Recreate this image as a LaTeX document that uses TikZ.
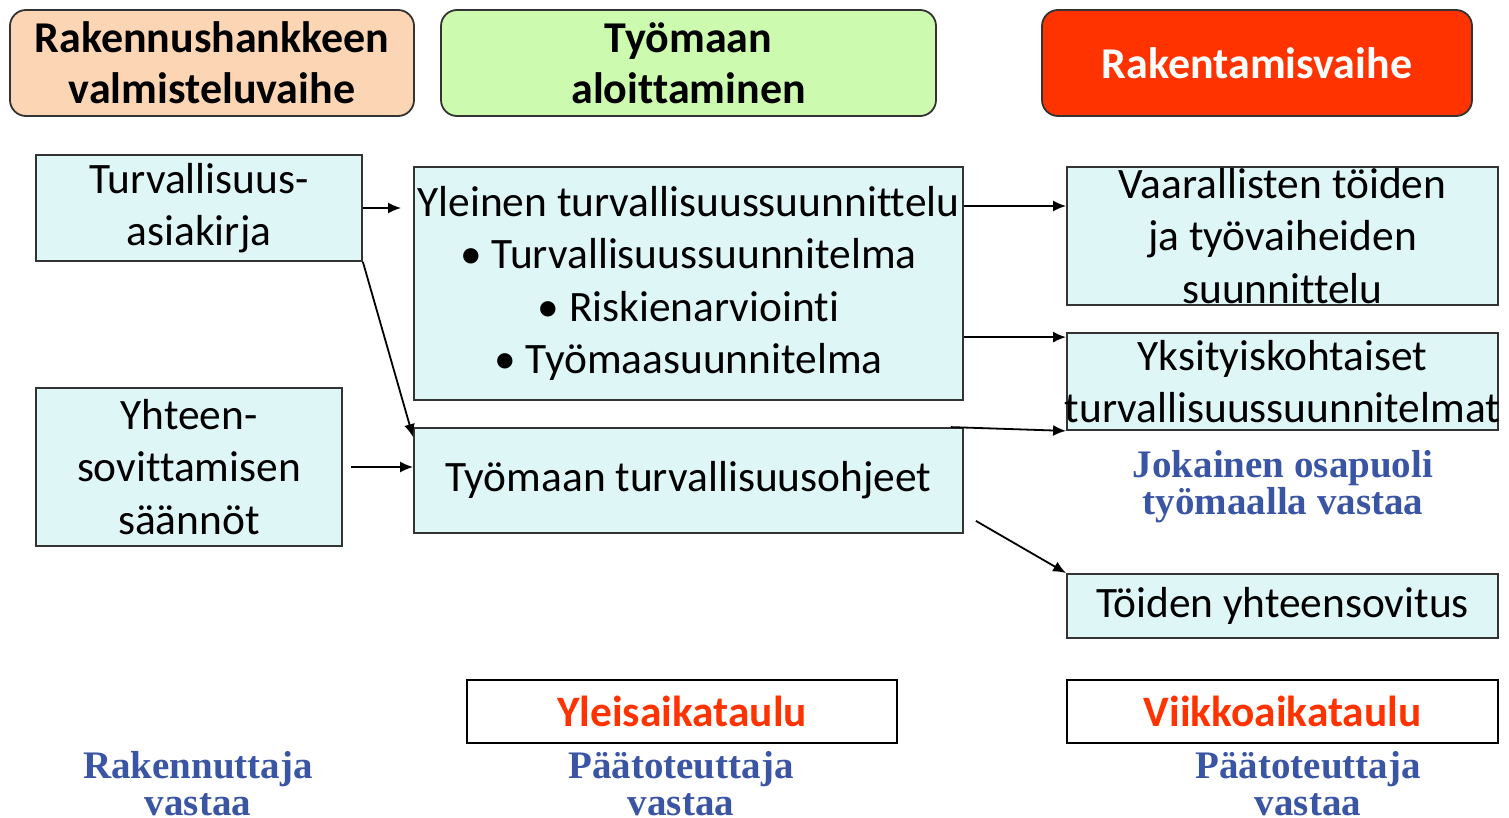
\documentclass[tikz,border=0pt]{standalone}
\usepackage{fontspec}
\setmainfont[Ligatures=NoCommon]{Carlito}
\newfontfamily\dutyfont{Liberation Serif}
\usetikzlibrary{arrows.meta}

\definecolor{peach}{HTML}{FCD5B4}
\definecolor{mint}{HTML}{CCFAAE}
\definecolor{flame}{HTML}{FF3300}
\definecolor{icecyan}{HTML}{DFF6F6}
\definecolor{inkblue}{HTML}{3A55A4}

\begin{document}
\begin{tikzpicture}[x=0.5pt,y=-0.5pt,>={Latex[length=6.5pt,width=5.5pt]},line width=0.9pt,
        phase/.style={draw=black!80,rounded corners=8pt,align=center,inner sep=0pt,
                font=\fontsize{22}{25.5}\selectfont\bfseries},
        plan/.style={draw=black!80,fill=icecyan,align=center,inner sep=0pt,
                font=\fontsize{21.7}{26.3}\selectfont},
        sched/.style={draw=black,fill=white,inner sep=0pt,text=flame,
                font=\fontsize{21.7}{24}\selectfont\bfseries},
        duty/.style={text=inkblue,align=center,
                font=\dutyfont\fontsize{19.5}{18.5}\selectfont\bfseries}]
        \useasboundingbox (0,0) rectangle (1509,818);

        % draw the phase headers
        \node[phase,fill=peach,minimum width=202pt,minimum height=53pt] (prep) at (212,63)
                {Rakennushankkeen\\valmisteluvaihe};
        \node[phase,fill=mint,minimum width=247.5pt,minimum height=53pt] (start) at (688.5,63)
                {Työmaan\\aloittaminen};
        \node[phase,fill=flame,text=white,minimum width=215pt,minimum height=53pt] (build) at (1257,63)
                {Rakentamisvaihe};

        % draw the planning boxes
        \node[plan,minimum width=163pt,minimum height=53pt] (doc) at (199,208)
                {Turvallisuus-\\asiakirja};
        \node[plan,minimum width=153pt,minimum height=79pt] (rules) at (189,467)
                {Yhteen-\\sovittamisen\\säännöt};
        \node[plan,minimum width=274.5pt,minimum height=116.5pt] (general) at (688.5,283.5)
                {Yleinen turvallisuussuunnittelu\\\textbullet\ Turvallisuussuunnitelma\\
                 \textbullet\ Riskienarviointi\\\textbullet\ Työmaasuunnitelma};
        \node[plan,minimum width=274.5pt,minimum height=52.5pt] (guide) at (688.5,480.5)
                {Työmaan turvallisuusohjeet};
        \node[plan,minimum width=215.5pt,minimum height=69pt] (danger) at (1282.5,236)
                {Vaarallisten töiden\\ja työvaiheiden\\suunnittelu};
        \node[plan,inner xsep=-1.5pt,minimum width=215.5pt,minimum height=48.5pt] (detail) at (1282.5,381.5)
                {Yksityiskohtaiset\\turvallisuussuunnitelmat};
        \node[plan,minimum width=215.5pt,minimum height=32pt] (coord) at (1282.5,606)
                {Töiden yhteensovitus};

        % draw the schedules
        \node[sched,minimum width=215pt,minimum height=31.5pt] (master) at (682,711.5) {Yleisaikataulu};
        \node[sched,minimum width=215.5pt,minimum height=31.5pt] (week) at (1282.5,711.5) {Viikkoaikataulu};

        % who is responsible
        \node[duty] (everyone) at (1283,487) {Jokainen osapuoli\\työmaalla vastaa};
        \node[duty] (client) at (198,784) {Rakennuttaja\\vastaa};
        \node[duty] (mainA) at (681,784) {Päätoteuttaja\\vastaa};
        \node[duty] (mainB) at (1308,784) {Päätoteuttaja\\vastaa};

        % draw the arrows
        \coordinate (e in) at ([yshift=15pt]danger.west);
        \coordinate (f in) at ([yshift=-2.5pt]detail.north west);
        \coordinate (d out) at ([xshift=-6.5pt]guide.north east);
        \coordinate (g out) at ([xshift=6pt,yshift=6.5pt]guide.south east);
        \draw[->,shorten >=6pt] (doc.east) -- (doc.east -| general.west);
        \draw[->] (doc.south east) -- ([yshift=-5pt]guide.north west);
        \draw[->,shorten <=4pt] (rules.east) -- (rules.east -| guide.west);
        \draw[->] (e in -| general.east) -- (e in);
        \draw[->] (f in -| general.east) -- (f in);
        \draw[->] (d out) -- (detail.south west);
        \draw[->] (g out) -- (coord.north west);
\end{tikzpicture}
\end{document}
